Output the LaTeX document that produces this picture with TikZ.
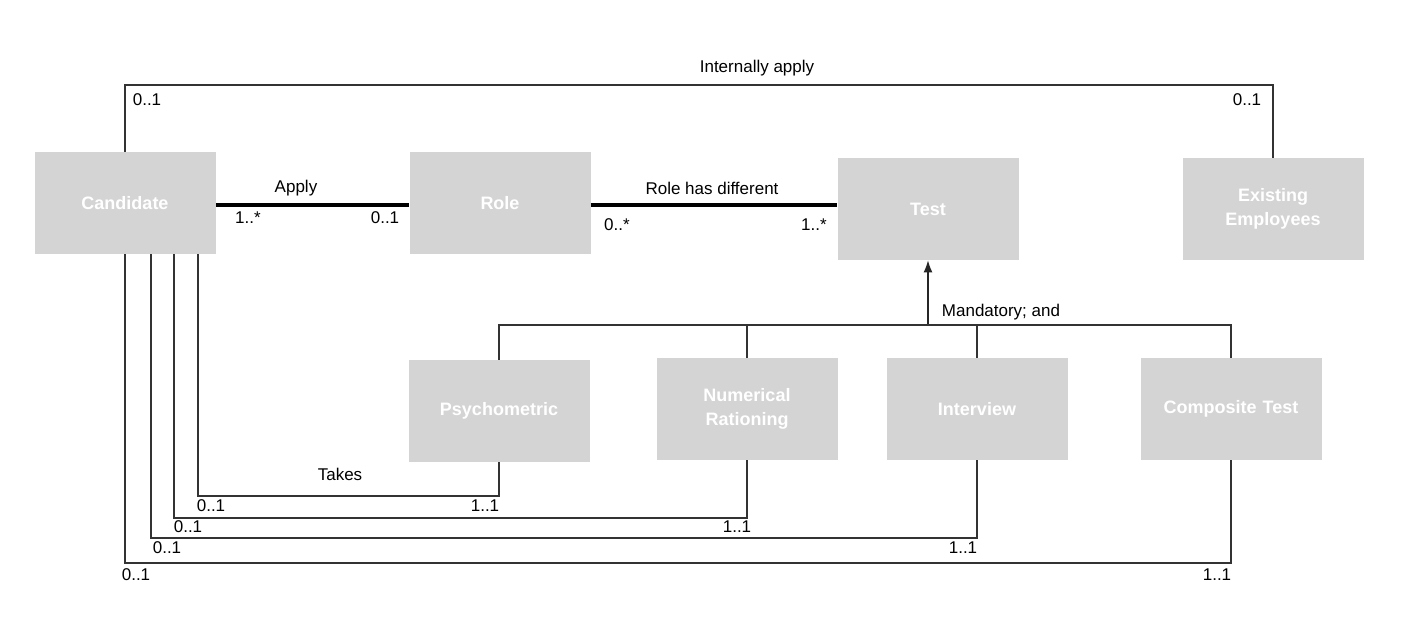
\documentclass[tikz,border=0pt]{standalone}
\usepackage{fontspec}
\setmainfont{Liberation Sans}
\usepackage{tikz}
\usetikzlibrary{arrows.meta,calc}
\definecolor{boxgray}{HTML}{D4D4D4}
\tikzstyle{cls} = [rectangle, minimum width=90.5pt, minimum height=51pt, text width=83pt, align=center, fill=boxgray, text=white, font=\fontsize{9}{12}\selectfont\bfseries]
\tikzstyle{lbl} = [inner sep=0pt, font=\fontsize{8.5}{10}\selectfont]
\tikzstyle{assoc} = [line width=0.6pt, black!80]
\tikzstyle{strong} = [line width=1.6pt, black]
\tikzstyle{arrow} = [line width=0.6pt, black!85, -{Latex[length=6pt,width=4.5pt]}]

\begin{document}
\begin{tikzpicture}[x=0.5pt, y=-0.5pt]
\useasboundingbox (0,0) rectangle (1426,617);

% classes
\node[cls] (cand) at (125,203) {Candidate};
\node[cls] (role) at (500,203) {Role};
\node[cls] (test) at (928,209) {Test};
\node[cls] (emp) at (1273,209) {Existing\\Employees};
\node[cls] (psy) at (499,411) {Psychometric};
\node[cls] (num) at (747,409) {Numerical\\Rationing};
\node[cls] (intv) at (977,409) {Interview};
\node[cls] (comp) at (1231,409) {Composite Test};

% internally apply
\draw[assoc] (cand.north) -- (cand.north |- 0,85) -| (emp.north);
\node[lbl] (l-int) at (757,68) {Internally apply};
\node[lbl] (m-int1) at (147,100) {0..1};
\node[lbl] (m-int2) at (1247,100) {0..1};

% apply / role has different
\draw[strong] (cand.east |- 0,205) coordinate (a1) -- (role.west |- a1);
\node[lbl] (l-apply) at (296,188) {Apply};
\node[lbl] (m-app1) at (248,218) {1..*};
\node[lbl] (m-app2) at (385,218) {0..1};
\draw[strong] (role.east |- 0,205) coordinate (a2) -- (test.west |- a2);
\node[lbl] (l-diff) at (712,188) {Role has different};
\node[lbl] (m-dif1) at (617,225) {0..*};
\node[lbl] (m-dif2) at (814,225) {1..*};

% generalisation
\coordinate (bar) at (928,325);
\draw[arrow] (bar) -- (test.south);
\draw[assoc] (psy.north) |- (bar) -| (comp.north);
\draw[assoc] (num.north) -- (num.north |- bar);
\draw[assoc] (intv.north) -- (intv.north |- bar);
\node[lbl] (l-mand) at (1001,312) {Mandatory; and};

% takes
\draw[assoc] (cand.south) ++(73,0) coordinate (t1) -- (t1 |- 0,496) -| (psy.south);
\draw[assoc] (cand.south) ++(49,0) coordinate (t2) -- (t2 |- 0,518) -| (num.south);
\draw[assoc] (cand.south) ++(26,0) coordinate (t3) -- (t3 |- 0,538) -| (intv.south);
\draw[assoc] (cand.south) -- (cand.south |- 0,563) -| (comp.south);
\node[lbl] (l-take) at (340,474) {Takes};
\node[lbl] (m-t1a) at (211,506) {0..1};
\node[lbl] (m-t1b) at (485,506) {1..1};
\node[lbl] (m-t2a) at (188,527) {0..1};
\node[lbl] (m-t2b) at (737,527) {1..1};
\node[lbl] (m-t3a) at (167,548) {0..1};
\node[lbl] (m-t3b) at (963,548) {1..1};
\node[lbl] (m-t4a) at (136,575) {0..1};
\node[lbl] (m-t4b) at (1217,575) {1..1};

\end{tikzpicture}
\end{document}
